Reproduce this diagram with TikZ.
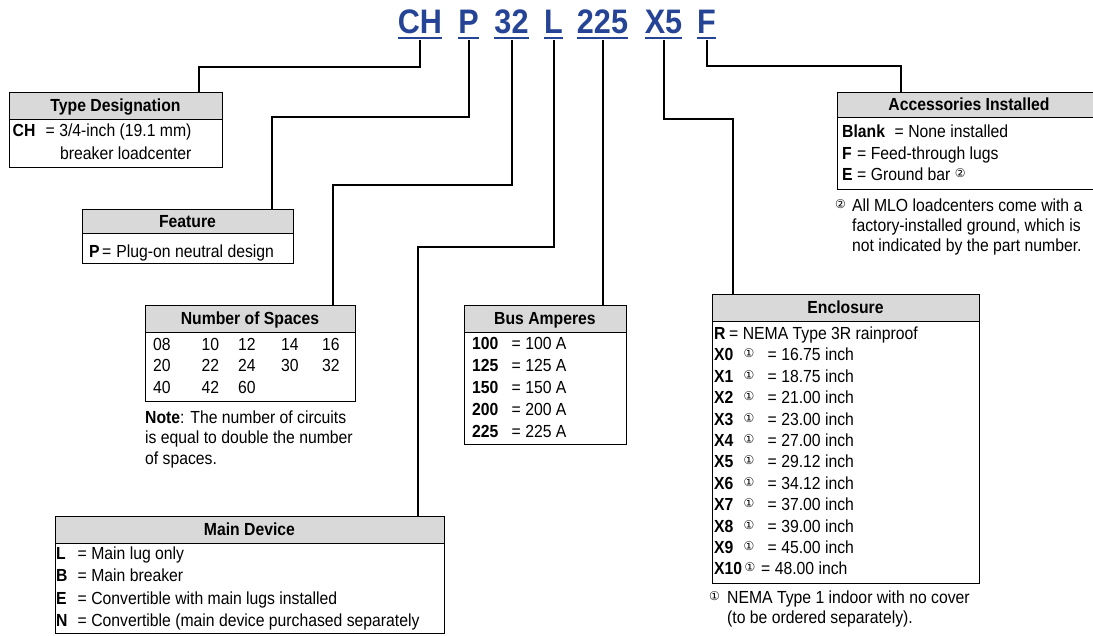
\documentclass[tikz,border=0pt]{standalone}
\usepackage{fontspec}
\setmainfont{Liberation Sans}[FakeStretch=0.9]
\newfontfamily\circfont{DejaVu Sans}
\definecolor{codeblue}{RGB}{38,68,150}
\definecolor{hdrgray}{RGB}{217,217,217}
\newcommand\sz{\fontsize{17.5}{21}\selectfont}
\newcommand\cnum[1]{\raisebox{3pt}{\circfont\fontsize{12}{12}\selectfont #1}}
\begin{document}
\begin{tikzpicture}[x=1pt,y=-1pt,
  code/.style={font=\fontsize{34}{34}\selectfont\bfseries, text=codeblue, anchor=base, inner sep=0pt},
  uline/.style={draw=codeblue, line width=2pt},
  conn/.style={line width=2pt},
  boxbody/.style={draw, line width=1.2pt, fill=white, anchor=north west, inner sep=0pt},
  hdr/.style={draw, line width=1.2pt, fill=hdrgray, anchor=north west, inner sep=0pt},
  ttl/.style={font=\sz\bfseries, anchor=base, inner sep=0pt},
  txt/.style={font=\sz, anchor=base west, inner sep=0pt},
  key/.style={font=\sz\bfseries, anchor=base west, inner sep=0pt},
  cmark/.style={anchor=base west, inner sep=0pt}
]
\useasboundingbox (0,0) rectangle (1093,635);

% ---- code letters
\node[code] (cCH) at (420,33) {CH};
\node[code] (cP) at (468.5,33) {P};
\node[code] (c32) at (511.5,33) {32};
\node[code] (cL) at (553.5,33) {L};
\node[code] (c225) at (602.5,33) {225};
\node[code] (cX5) at (663.5,33) {X5};
\node[code] (cF) at (706.5,33) {F};
\foreach \n in {cCH,cP,c32,cL,c225,cX5,cF}
  \draw[uline] ([yshift=-4.7pt]\n.base west) -- ([yshift=-4.7pt]\n.base east);

% ---- boxes
\node[boxbody, minimum width=213pt, minimum height=75pt] (tdb) at (9,92) {};
\node[hdr, minimum width=213pt, minimum height=27pt] (tdh) at (9,92) {};
\node[boxbody, minimum width=211pt, minimum height=54pt] (feb) at (82,209) {};
\node[hdr, minimum width=211pt, minimum height=24pt] (feh) at (82,209) {};
\node[boxbody, minimum width=210pt, minimum height=96pt] (nsb) at (145,305) {};
\node[hdr, minimum width=210pt, minimum height=27pt] (nsh) at (145,305) {};
\node[boxbody, minimum width=162pt, minimum height=139pt] (bab) at (464,305) {};
\node[hdr, minimum width=162pt, minimum height=27pt] (bah) at (464,305) {};
\node[boxbody, minimum width=389pt, minimum height=117pt] (mdb) at (55,516) {};
\node[hdr, minimum width=389pt, minimum height=27pt] (mdh) at (55,516) {};
\node[boxbody, minimum width=267pt, minimum height=289pt] (enb) at (712,294) {};
\node[hdr, minimum width=267pt, minimum height=27pt] (enh) at (712,294) {};
\node[boxbody, minimum width=264pt, minimum height=97pt] (acb) at (837,92) {};
\node[hdr, minimum width=264pt, minimum height=25pt] (ach) at (837,92) {};

% ---- connectors
\draw[conn] ([yshift=-7pt]cCH.base) -- (cCH.base |- 0,67) -| ([xshift=190pt]tdh.north west);
\draw[conn] ([yshift=-7pt]cP.base) -- (cP.base |- 0,117) -| ([xshift=190pt]feh.north west);
\draw[conn] ([yshift=-7pt]c32.base) -- (c32.base |- 0,185) -| ([xshift=188pt]nsh.north west);
\draw[conn] ([yshift=-7pt]cL.base) -- (cL.base |- 0,247) -| ([xshift=363pt]mdh.north west);
\draw[conn] ([yshift=-7pt]c225.base) -- (c225.base |- bah.north);
\draw[conn] ([yshift=-7pt]cX5.base) -- (cX5.base |- 0,119) -| ([xshift=21pt]enh.north west);
\draw[conn] ([yshift=-7pt]cF.base) -- (cF.base |- 0,66) -| ([xshift=64pt]ach.north west);

% ---- titles
\node[ttl] (tdt) at (115.5,111.5) {Type Designation};
\node[ttl] (fet) at (187.5,227) {Feature};
\node[ttl] (nst) at (250,324.5) {Number of Spaces};
\node[ttl] (bat) at (545,324.5) {Bus Amperes};
\node[ttl] (mdt) at (249.5,535.5) {Main Device};
\node[ttl] (ent) at (845.5,313.5) {Enclosure};
\node[ttl] (act) at (969,110.5) {Accessories Installed};

% ---- Type Designation
\node[key] (tdk) at (12.5,136) {CH};
\node[txt] (tdv) at (45.5,136) {= 3/4-inch (19.1 mm)};
\node[txt] (tdv2) at (60,159) {breaker loadcenter};

% ---- Feature
\node[key] (fek) at (89,257) {P};
\node[txt] (fev) at (102,257) {=\hspace{5pt}Plug-on neutral design};

% ---- Number of Spaces
\foreach \a/\b/\c/\d/\e [count=\r from 0] in {08/10/12/14/16, 20/22/24/30/32, 40/42/60//} {
  \node[txt] (ns\r a) at (153,{350+21.5*\r}) {\a};
  \node[txt] (ns\r b) at (201.5,{350+21.5*\r}) {\b};
  \node[txt] (ns\r c) at (238,{350+21.5*\r}) {\c};
  \node[txt] (ns\r d) at (281,{350+21.5*\r}) {\d};
  \node[txt] (ns\r e) at (322,{350+21.5*\r}) {\e};
}
\node[txt] (note1) at (145,423) {\textbf{Note}: The number of circuits};
\node[txt] (note2) at (145,443.5) {is equal to double the number};
\node[txt] (note3) at (145,464) {of spaces.};

% ---- Bus Amperes
\foreach \v [count=\i from 0] in {100,125,150,200,225} {
  \node[key] (bak\i) at (472,{349.5+22*\i}) {\v};
  \node[txt] (bav\i) at (511.5,{349.5+22*\i}) {= \v\ A};
}

% ---- Main Device
\foreach \k/\v [count=\i from 0] in {L/Main lug only, B/Main breaker, E/Convertible with main lugs installed, N/Convertible (main device purchased separately} {
  \node[key] (mdk\i) at (56,{559+22.5*\i}) {\k};
  \node[txt] (mdv\i) at (77.5,{559+22.5*\i}) {= \v};
}

% ---- Enclosure
\node[key] (enkR) at (714,339.5) {R};
\node[txt] (envR) at (729,339.5) {= NEMA Type 3R rainproof};
\foreach \k/\v [count=\i from 1] in {X0/16.75, X1/18.75, X2/21.00, X3/23.00, X4/27.00, X5/29.12, X6/34.12, X7/37.00, X8/39.00, X9/45.00} {
  \node[key] (enk\i) at (714,{339.5+21.4*\i}) {\k};
  \node[cmark] (enm\i) at (743.5,{339.5+21.4*\i}) {\cnum{①}};
  \node[txt] (env\i) at (767.5,{339.5+21.4*\i}) {= \v\ inch};
}
\node[key] (enk11) at (714,574.9) {X10};
\node[cmark] (enm11) at (744.5,574.9) {\cnum{①}};
\node[txt] (env11) at (761,574.9) {= 48.00 inch};
\node[cmark] (enfm) at (709,603) {\cnum{①}};
\node[txt] (enf1) at (727,603) {NEMA Type 1 indoor with no cover};
\node[txt] (enf2) at (727,623) {(to be ordered separately).};

% ---- Accessories
\node[key] (ack0) at (842,137.5) {Blank};
\node[txt] (acv0) at (894.5,137.5) {= None installed};
\node[key] (ack1) at (842,159) {F};
\node[txt] (acv1) at (857,159) {= Feed-through lugs};
\node[key] (ack2) at (842,180.5) {E};
\node[txt] (acv2) at (857,180.5) {= Ground bar \cnum{②}};
\node[cmark] (acfm) at (835,211) {\cnum{②}};
\node[txt] (acf1) at (852,211) {All MLO loadcenters come with a};
\node[txt] (acf2) at (852,231) {factory-installed ground, which is};
\node[txt] (acf3) at (852,251) {not indicated by the part number.};
\end{tikzpicture}
\end{document}
